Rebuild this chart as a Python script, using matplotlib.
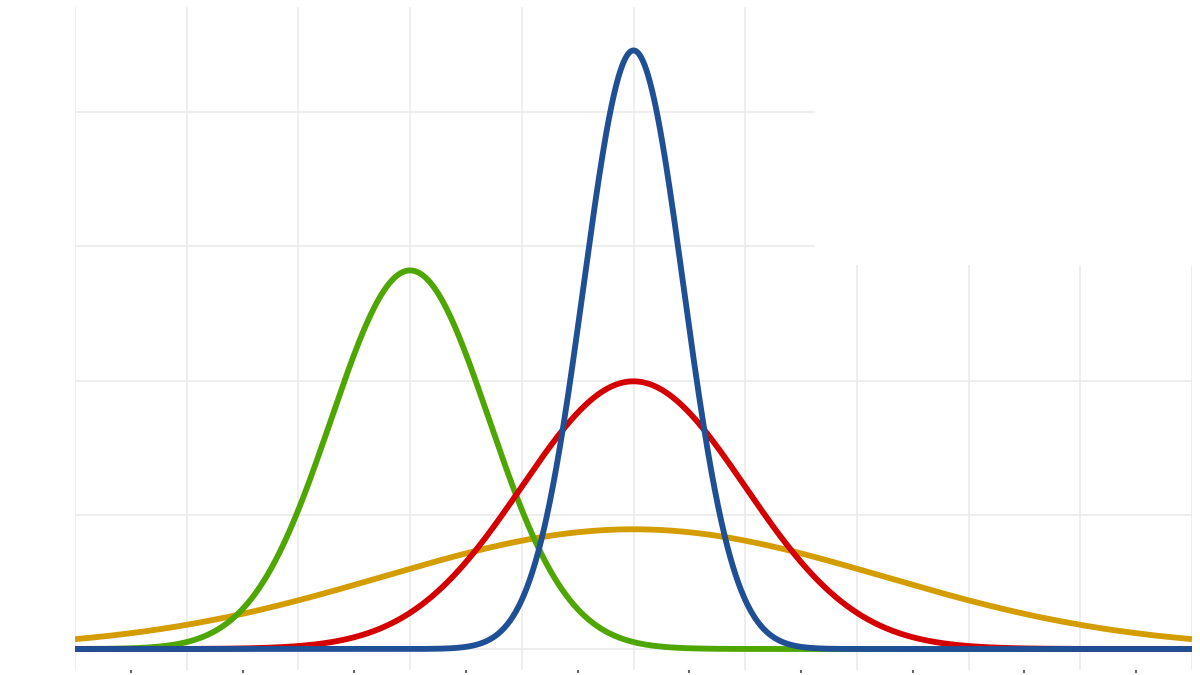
import numpy as np
import matplotlib
matplotlib.use("Agg")
import matplotlib.pyplot as plt
from matplotlib.patches import Rectangle

# Distribution parameters (normal densities)
names = ["yellow", "green", "red", "blue"]
means = [0.0, -2.0, 0.0, 0.0]
variances = [5.0, 0.5, 1.0, 0.2]
colors = ["#d39d00", "#4ea600", "#d40000", "#1f4f95"]

x_min, x_max = -5.0, 5.0
x_ticks = [-4.5, -3.5, -2.5, -1.5, -0.5, 0.5, 1.5, 2.5, 3.5, 4.5]
x_grid = [-5, -4, -3, -2, -1, 0, 1, 2, 3, 4, 5]
y_grid = [0.0, 0.2, 0.4, 0.6, 0.8]

W, H = 1200, 675
fig = plt.figure(figsize=(12, 6.75), dpi=100)
left_px, right_px = 75, 1192
top_px, bottom_px = 7, 670
ax = fig.add_axes([left_px / W, 1 - bottom_px / H, (right_px - left_px) / W, (bottom_px - top_px) / H])

ppu = 671.0  # pixels per density unit
ax.set_xlim(x_min, x_max)
ax.set_ylim(-(bottom_px - 649) / ppu, (649 - top_px) / ppu)

for s in ax.spines.values():
    s.set_visible(False)

for gx in x_grid:
    ax.axvline(gx, color="#ebebeb", lw=1.2, zorder=0)
for gy in y_grid:
    ax.axhline(gy, color="#ebebeb", lw=1.2, zorder=0)

# white box covering the upper right (former legend area)
bx0 = x_min + (815 - left_px) / ((right_px - left_px) / (x_max - x_min))
ax.add_patch(Rectangle((bx0, (649 - 265) / ppu), x_max - bx0 + 0.5, 1.0,
                       facecolor="white", edgecolor="none", zorder=0.5))

xs = np.linspace(x_min, x_max, 2001)
for m, v, c in zip(means, variances, colors):
    ys = np.exp(-(xs - m) ** 2 / (2 * v)) / np.sqrt(2 * np.pi * v)
    ax.plot(xs, ys, color=c, lw=4.2, zorder=3, solid_capstyle="butt")

ax.set_xticks(x_ticks)
ax.set_xticklabels([])
ax.set_yticks([])
ax.tick_params(axis="x", direction="out", length=2.5, width=1.5, color="#666666")

fig.savefig("out.png", dpi=100)
